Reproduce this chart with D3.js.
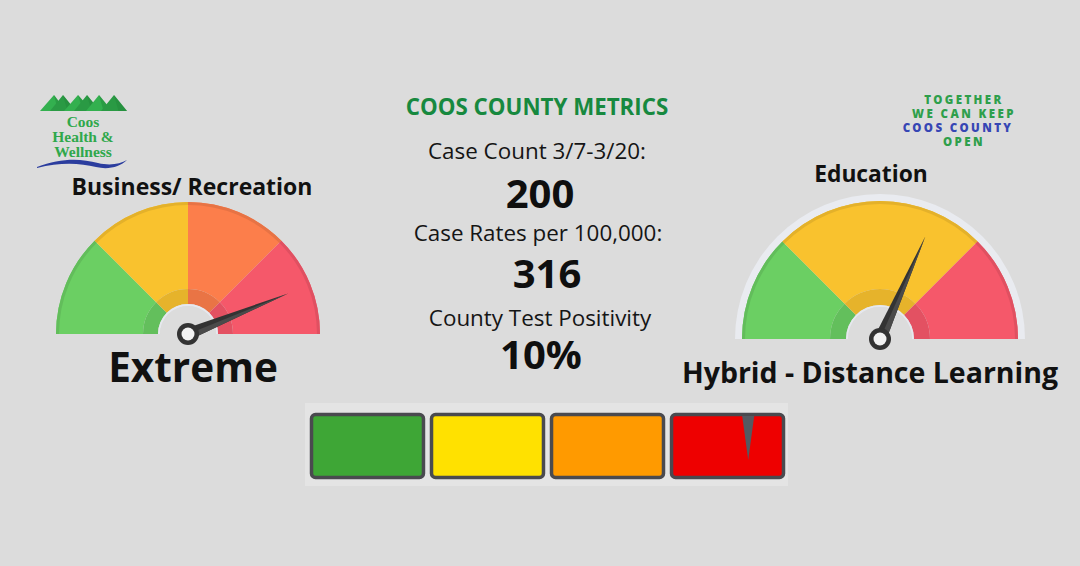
<!DOCTYPE html>
<html>
<head>
<meta charset="utf-8">
<script src="https://cdn.jsdelivr.net/npm/d3@7"></script>
<style>
  html, body { margin: 0; padding: 0; background: #dcdcdc; }
  svg { display: block; }
</style>
</head>
<body>
<svg id="chart" width="1080" height="566"></svg>
<script>
// ---------------- DATA ----------------
const leftGaugeSegments = ["Low", "Moderate", "High", "Extreme"];
const leftGaugeSizes = [1, 1, 1, 1];
const leftGaugeValue = 3.51;           // needle position on 0..4 scale
const leftGaugeTitle = "Business/ Recreation";
const leftGaugeLabel = "Extreme";

const rightGaugeSegments = ["In-Person", "Hybrid", "Distance"];
const rightGaugeSizes = [1, 2, 1];
const rightGaugeValue = 2.53;          // needle position on 0..4 scale
const rightGaugeTitle = "Education";
const rightGaugeLabel = "Hybrid - Distance Learning";

const metricLabels = ["Case Count 3/7-3/20:", "Case Rates per 100,000:", "County Test Positivity"];
const metricValues = ["200", "316", "10%"];

const riskLevels = ["Lower", "Moderate", "High", "Extreme"];
const riskIndicatorLevel = "Extreme";
const riskIndicatorFraction = 0.68;    // position within the level box

const sloganLines = ["TOGETHER", "WE CAN KEEP", "COOS COUNTY", "OPEN"];
const logoLines = ["Coos", "Health &", "Wellness"];

// ---------------- STYLES ----------------
const svg = d3.select("#chart");
const FONT = "'Open Sans', sans-serif";

svg.append("rect").attr("width", 1080).attr("height", 566).attr("fill", "#dcdcdc");

// ---------------- LOGO ----------------
const logo = svg.append("g");
const peaks = [[40, 66, 54], [50, 76, 63], [64, 92, 78], [74, 100, 87], [86, 112, 99], [101, 127, 114]];
peaks.forEach((p, i) => {
  logo.append("path")
    .attr("d", `M${p[0]},111 L${p[2]},95 L${p[1]},111 Z`)
    .attr("fill", i % 2 ? "#2a9a44" : "#33b04f");
  logo.append("path")
    .attr("d", `M${p[2]},95 L${p[1]},111 L${(p[2] + p[1]) / 2 - 2},111 Z`)
    .attr("fill", "#22883a").attr("opacity", 0.5);
});
logo.selectAll("text.logo").data(logoLines).join("text")
  .attr("x", 83).attr("y", (d, i) => 127 + i * 15)
  .attr("text-anchor", "middle")
  .attr("font-family", "'Liberation Serif', serif")
  .attr("font-weight", "bold")
  .attr("font-size", 15.5)
  .attr("fill", "#2fa84b")
  .text(d => d);
logo.append("path")
  .attr("d", "M37,167 C60,158 80,158 98,163 C110,166 120,164 127,160 C120,167 108,170 96,167 C80,163 60,162 37,168 Z")
  .attr("fill", "#2b3d9e");

// ---------------- SLOGAN ----------------
svg.selectAll("text.slogan").data(sloganLines).join("text")
  .attr("x", (d, i) => i === 2 ? 958 : 964)
  .attr("y", (d, i) => 104 + i * 14)
  .attr("text-anchor", "middle")
  .attr("font-family", "'Noto Sans', sans-serif")
  .attr("font-weight", "900")
  .attr("font-size", 11.5)
  .attr("letter-spacing", 2.4)
  .attr("fill", (d, i) => i === 2 ? "#3646b4" : "#2e9f4b")
  .text(d => d);

// ---------------- CENTER METRICS ----------------
svg.append("text").attr("x", 537).attr("y", 115).attr("text-anchor", "middle")
  .attr("font-family", FONT).attr("font-weight", "bold").attr("font-size", 22.3)
  .attr("fill", "#17893f").text("COOS COUNTY METRICS");

const labelPos = [[537, 159], [538, 241], [540, 326]];
const valuePos = [[540, 208], [547, 288], [541, 369]];
svg.selectAll("text.mlabel").data(metricLabels).join("text")
  .attr("x", (d, i) => labelPos[i][0]).attr("y", (d, i) => labelPos[i][1])
  .attr("text-anchor", "middle").attr("font-family", FONT).attr("font-size", 22.4)
  .attr("fill", "#151515").text(d => d);
svg.selectAll("text.mvalue").data(metricValues).join("text")
  .attr("x", (d, i) => valuePos[i][0]).attr("y", (d, i) => valuePos[i][1])
  .attr("text-anchor", "middle").attr("font-family", FONT).attr("font-weight", "bold")
  .attr("font-size", 40).attr("fill", "#0f0f0f").text(d => d);

// ---------------- GAUGE ----------------
function darker(c, k) { return d3.color(c).darker(k).formatHex(); }

function drawGauge(opt) {
  const g = svg.append("g").attr("transform", `translate(${opt.cx},${opt.cy})`);
  const total = d3.sum(opt.sizes);
  const angle = d3.scaleLinear().domain([0, total]).range([-Math.PI / 2, Math.PI / 2]);
  const pie = d3.pie().sort(null).value(d => d).startAngle(-Math.PI / 2).endAngle(Math.PI / 2);
  const arcs = pie(opt.sizes);

  if (opt.border) {
    g.append("path")
      .attr("d", d3.arc().innerRadius(opt.r).outerRadius(opt.r + opt.border)
        .startAngle(-Math.PI / 2).endAngle(Math.PI / 2)())
      .attr("fill", "#e9ebf0");
  }
  const outer = d3.arc().innerRadius(opt.ringR).outerRadius(opt.r);
  g.selectAll("path.seg").data(arcs).join("path")
    .attr("d", outer).attr("fill", (d, i) => opt.colors[i]);
  const rim = d3.arc().innerRadius(opt.r - 3).outerRadius(opt.r);
  g.selectAll("path.rim").data(arcs).join("path")
    .attr("d", rim).attr("fill", (d, i) => darker(opt.colors[i], 0.25));
  const ring = d3.arc().innerRadius(opt.holeR).outerRadius(opt.ringR);
  g.selectAll("path.ring").data(arcs).join("path")
    .attr("d", ring).attr("fill", (d, i) => darker(opt.colors[i], 0.22));
  g.append("path")
    .attr("d", d3.arc().innerRadius(opt.holeR - 2).outerRadius(opt.holeR)
      .startAngle(-Math.PI / 2).endAngle(Math.PI / 2)())
    .attr("fill", "#e6e8ee");
  g.append("path")
    .attr("d", d3.arc().innerRadius(0).outerRadius(opt.holeR - 2)
      .startAngle(-Math.PI / 2).endAngle(Math.PI / 2)())
    .attr("fill", "#dcdcdc");

  // needle
  const a = angle(opt.value);
  const deg = a * 180 / Math.PI;
  const ng = g.append("g").attr("transform", `rotate(${deg})`);
  const L = opt.needleLen, w = 6;
  ng.append("path").attr("d", `M${-w},0 L0,${-L} L${w},0 Z`).attr("fill", "#333333");
  ng.append("path").attr("d", `M0,0 L0,${-L} L${w},0 Z`).attr("fill", "#4a4a4a");
  g.append("circle").attr("r", 11).attr("fill", "#333333");
  g.append("circle").attr("r", 6.5).attr("fill", "#f2f2f2");

  svg.append("text").attr("x", opt.titleX).attr("y", opt.titleY).attr("text-anchor", "middle")
    .attr("font-family", FONT).attr("font-weight", "bold").attr("font-size", opt.titleSize)
    .attr("fill", "#111").text(opt.title);
  svg.append("text").attr("x", opt.labelX).attr("y", opt.labelY).attr("text-anchor", "middle")
    .attr("font-family", FONT).attr("font-weight", "bold").attr("font-size", opt.labelSize)
    .attr("fill", "#111").text(opt.label);
}

drawGauge({
  cx: 188, cy: 334, r: 132, ringR: 45, holeR: 30, border: 0,
  sizes: leftGaugeSizes, value: leftGaugeValue, needleLen: 108,
  colors: ["#6bcf63", "#f9c22e", "#fc7e4b", "#f5586a"],
  title: leftGaugeTitle, titleX: 192, titleY: 195, titleSize: 23,
  label: leftGaugeLabel, labelX: 193, labelY: 382, labelSize: 40.5
});
drawGauge({
  cx: 880, cy: 339, r: 138, ringR: 50, holeR: 34, border: 7,
  sizes: rightGaugeSizes, value: rightGaugeValue, needleLen: 112,
  colors: ["#6bcf63", "#f9c22e", "#f5586a"],
  title: rightGaugeTitle, titleX: 871, titleY: 182, titleSize: 22.8,
  label: rightGaugeLabel, labelX: 870, labelY: 383, labelSize: 28.5
});

// ---------------- RISK BAR ----------------
svg.append("rect").attr("x", 305).attr("y", 403).attr("width", 483).attr("height", 83)
  .attr("fill", "#e4e4e4");
const riskColors = ["#3ea636", "#ffe100", "#ff9a00", "#ee0000"];
const bx = d3.scaleBand().domain(riskLevels).range([310, 785]).paddingInner(0.042);
svg.selectAll("rect.risk").data(riskLevels).join("rect")
  .attr("x", d => bx(d) + 1.5).attr("y", 414.5)
  .attr("width", bx.bandwidth() - 3).attr("height", 63)
  .attr("rx", 4).attr("fill", (d, i) => riskColors[i])
  .attr("stroke", "#4a4a4f").attr("stroke-width", 3.5);
const ix = bx(riskIndicatorLevel) + bx.bandwidth() * riskIndicatorFraction;
svg.append("path")
  .attr("d", `M${ix - 6},416 L${ix + 6},416 L${ix},460 Z`)
  .attr("fill", "#555961");
</script>
</body>
</html>
